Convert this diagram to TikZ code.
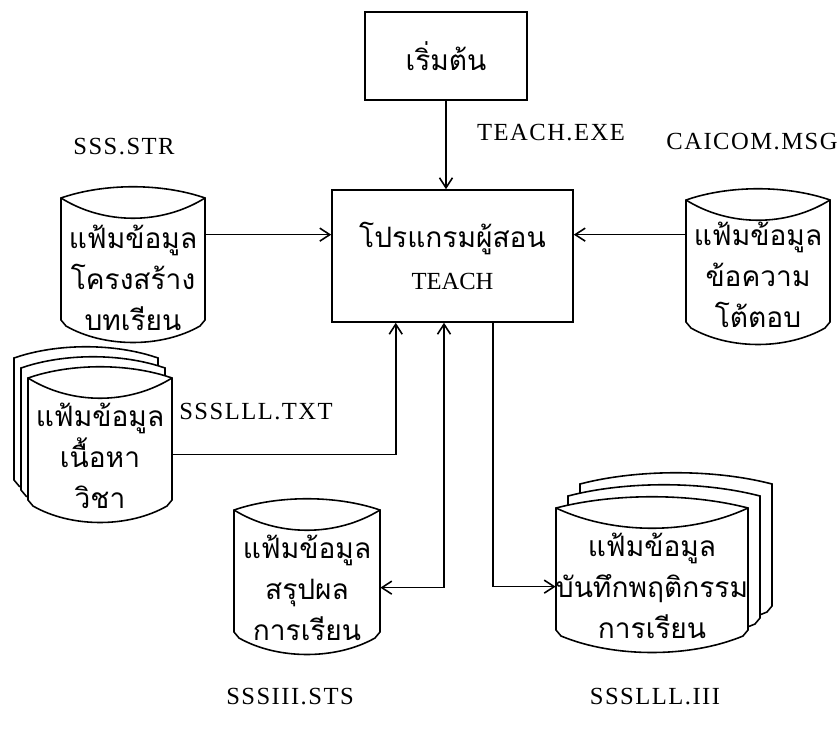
\documentclass[tikz,border=0pt]{standalone}
\usepackage{fontspec}
\newfontfamily\thaifont[Script=Thai]{Loma}
\newfontfamily\lblfont[LetterSpace=6]{Liberation Serif}
\newfontfamily\romfont{Liberation Serif}
\usetikzlibrary{arrows.meta,calc,fit}

% data file drawn as a disk with a lens top: name, centre x, top y, half width
\newcommand{\filecyl}[4]{%
  \draw[fileline] (#2-#4,#3) .. controls (#2-#4*0.4,#3-15) and (#2+#4*0.4,#3-15) .. (#2+#4,#3)
    -- (#2+#4,#3+122) -- (#2+#4-5,#3+128)
    .. controls (#2+#4*0.4,#3+150) and (#2-#4*0.4,#3+150) .. (#2-#4+5,#3+128)
    -- (#2-#4,#3+122) -- cycle;
  \draw[fileline,fill=none] (#2-#4,#3) .. controls (#2-#4*0.4,#3+27) and (#2+#4*0.4,#3+27) .. (#2+#4,#3);
  \coordinate (#1-a) at (#2-#4,#3);
  \coordinate (#1-b) at (#2+#4,#3+122);
  \node[fit=(#1-a)(#1-b),inner sep=0pt] (#1) {};
}
% copy behind a stacked file, outline only
\newcommand{\fileback}[3]{%
  \draw[fileline] (#1-#3,#2) .. controls (#1-#3*0.4,#2-15) and (#1+#3*0.4,#2-15) .. (#1+#3,#2)
    -- (#1+#3,#2+122) -- (#1+#3-5,#2+128)
    .. controls (#1+#3*0.4,#2+150) and (#1-#3*0.4,#2+150) .. (#1-#3+5,#2+128)
    -- (#1-#3,#2+122) -- cycle;
}

\begin{document}
\begin{tikzpicture}[
  x=0.02cm,y=-0.02cm,
  fileline/.style={draw=black,line width=0.9pt,fill=white},
  procbox/.style={draw,line width=0.9pt,align=center,inner sep=0pt},
  filetext/.style={font=\thaifont\fontsize{16}{23.3}\selectfont,align=center},
  fname/.style={font=\lblfont\fontsize{14}{16}\selectfont},
  arr/.style={-{Straight Barb[length=2mm,width=2.6mm]},line width=0.9pt},
  arrboth/.style={{Straight Barb[length=2mm,width=2.6mm]}-{Straight Barb[length=2mm,width=2.6mm]},line width=0.9pt}
]
\useasboundingbox (0,0) rectangle (839,733);

% program boxes
\node[procbox,minimum width=3.24cm,minimum height=1.76cm,
  font=\thaifont\fontsize{16}{23.3}\selectfont] (start) at (446,56) {เริ่มต้น};
\node[procbox,minimum width=4.82cm,minimum height=2.64cm,
  font=\thaifont\fontsize{16}{24.4}\selectfont] (main) at (452.5,256)
  {โปรแกรมผู้สอน\\{\romfont\fontsize{14}{16}\selectfont TEACH}};

% data files
\filecyl{sss}{133}{198}{72}
\filecyl{msg}{758}{200}{72}
\fileback{86}{358}{72}
\fileback{93}{368}{72}
\filecyl{txt}{100}{378}{72}
\filecyl{sts}{307}{510}{73}
\fileback{676}{484}{96}
\fileback{664}{496}{96}
\filecyl{iii}{652}{508}{96}

\node[filetext] (sss-t) at (133,278) {แฟ้มข้อมูล\\โครงสร้าง\\บทเรียน};
\node[filetext] (msg-t) at (758,275) {แฟ้มข้อมูล\\ข้อความ\\โต้ตอบ};
\node[filetext] (txt-t) at (100,456) {แฟ้มข้อมูล\\เนื้อหา\\วิชา};
\node[filetext] (sts-t) at (307,588) {แฟ้มข้อมูล\\สรุปผล\\การเรียน};
\node[filetext] (iii-t) at (652,586) {แฟ้มข้อมูล\\บันทึกพฤติกรรม\\การเรียน};

% file names
\node[fname] (exe-n) at (551,133) {TEACH.EXE};
\node[fname] (sss-n) at (124,147) {SSS.STR};
\node[fname] (msg-n) at (752,142) {CAICOM.MSG};
\node[fname] (txt-n) at (256,412) {SSSLLL.TXT};
\node[fname] (sts-n) at (290,697) {SSSIII.STS};
\node[fname] (iii-n) at (655,697) {SSSLLL.III};

% connectors
\coordinate (m1) at ($(main.south west)!0.266!(main.south east)$);
\coordinate (m2) at ($(main.south west)!0.465!(main.south east)$);
\coordinate (m3) at ($(main.south west)!0.668!(main.south east)$);
\coordinate (sss-o) at ($(sss.north east)+(0,37)$);
\coordinate (msg-o) at ($(msg.north west)+(0,35)$);
\coordinate (txt-o) at ($(txt.north east)+(0,77)$);
\coordinate (sts-i) at ($(sts.north east)+(0,78)$);
\coordinate (iii-i) at ($(iii.north west)+(0,79)$);
\draw[arr] (start.south) -- (start.south |- main.north);
\draw[arr] (sss-o) -- (sss-o -| main.west);
\draw[arr] (msg-o) -- (msg-o -| main.east);
\draw[arr] (txt-o) -| (m1);
\draw[arrboth] (m2) |- (sts-i);
\draw[arr] (m3) |- (iii-i);
\end{tikzpicture}
\end{document}
